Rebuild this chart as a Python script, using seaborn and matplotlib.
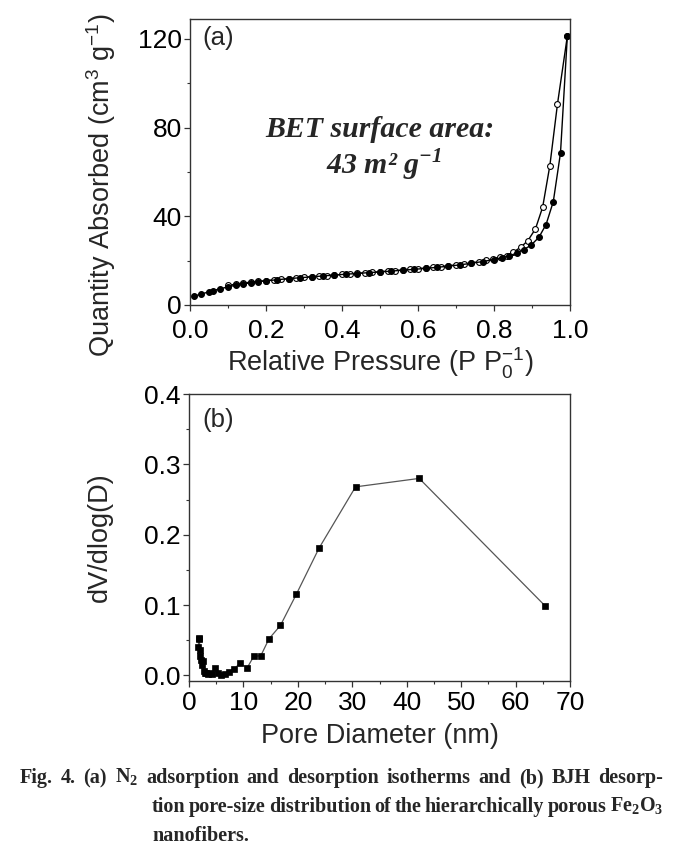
import numpy as np
import pandas as pd
import seaborn as sns
import matplotlib.pyplot as plt
from matplotlib.ticker import MultipleLocator

# (a) N2 isotherm, adsorption branch (filled)
ads_p = [0.01, 0.03, 0.05, 0.06, 0.08, 0.10, 0.12, 0.14, 0.16, 0.18, 0.20, 0.23, 0.26, 0.29,
         0.32, 0.35, 0.38, 0.41, 0.44, 0.47, 0.50, 0.53, 0.56, 0.59, 0.62, 0.65, 0.68, 0.71,
         0.74, 0.77, 0.80, 0.82, 0.84, 0.86, 0.878, 0.897, 0.918, 0.937, 0.956, 0.975, 0.993]
ads_q = [3.9, 5.0, 5.9, 6.5, 7.3, 8.2, 8.9, 9.5, 10.0, 10.5, 10.9, 11.4, 11.9, 12.3,
         12.7, 13.1, 13.5, 13.9, 14.2, 14.6, 14.9, 15.3, 15.7, 16.1, 16.5, 17.0, 17.5, 18.1,
         18.8, 19.6, 20.5, 21.3, 22.2, 23.4, 25.0, 26.9, 30.5, 36.3, 46.6, 68.6, 121.3]

# desorption branch (open)
des_p = [0.993, 0.967, 0.947, 0.928, 0.909, 0.889, 0.870, 0.851, 0.833, 0.816, 0.798, 0.780,
         0.760, 0.740, 0.720, 0.700, 0.680, 0.660, 0.640, 0.620, 0.600, 0.580, 0.560, 0.540,
         0.520, 0.500, 0.480, 0.460, 0.440, 0.420, 0.400, 0.380, 0.360, 0.340, 0.320, 0.300,
         0.280, 0.260, 0.240, 0.220, 0.200, 0.180, 0.160, 0.140, 0.120, 0.100]
des_q = [121.3, 90.6, 62.9, 44.1, 34.3, 29.0, 26.0, 23.9, 22.3, 21.7, 20.9, 20.1,
         19.5, 19.0, 18.5, 18.1, 17.7, 17.3, 17.0, 16.7, 16.4, 16.1, 15.8, 15.5,
         15.3, 15.0, 14.8, 14.5, 14.3, 14.0, 13.8, 13.5, 13.3, 13.0, 12.8, 12.5,
         12.2, 11.9, 11.6, 11.3, 11.0, 10.7, 10.3, 9.9, 9.4, 8.8]

# (b) BJH pore size distribution
pore_d = [1.7, 1.8, 1.9, 2.0, 2.1, 2.2, 2.35, 2.5, 2.7, 2.9, 3.2, 3.5, 3.9, 4.3, 4.8, 5.3,
          5.9, 6.6, 7.4, 8.3, 9.3, 10.7, 11.9, 13.2, 14.7, 16.8, 19.7, 23.9, 30.6, 42.3, 65.4]
dv_dlogd = [0.040, 0.052, 0.053, 0.036, 0.028, 0.022, 0.015, 0.020, 0.006, 0.003, 0.004,
            0.002, 0.003, 0.002, 0.010, 0.003, 0.001, 0.002, 0.005, 0.009, 0.017, 0.011,
            0.027, 0.028, 0.052, 0.071, 0.115, 0.181, 0.268, 0.280, 0.099]

sns.set_theme(style='ticks')
plt.rcParams['font.family'] = ['Liberation Sans', 'DejaVu Sans']
plt.rcParams['axes.edgecolor'] = '#333333'

W, H = 679, 855
fig = plt.figure(figsize=(W / 100, H / 100), dpi=100)

def px_axes(l, t, r, b):
    return fig.add_axes([l / W, 1 - b / H, (r - l) / W, (b - t) / H])

ax1 = px_axes(190, 19, 570, 305)
ax2 = px_axes(189, 394, 570, 681)

# --- panel (a)
df_des = pd.DataFrame({'p': des_p, 'q': des_q})
df_ads = pd.DataFrame({'p': ads_p, 'q': ads_q})
sns.lineplot(data=df_des, x='p', y='q', ax=ax1, sort=False, estimator=None, color='black',
             lw=1.0, marker='o', markersize=4.2, markerfacecolor='white',
             markeredgecolor='black', markeredgewidth=0.8)
sns.lineplot(data=df_ads, x='p', y='q', ax=ax1, sort=False, estimator=None, color='black',
             lw=1.0, marker='o', markersize=4.2, markerfacecolor='black',
             markeredgecolor='black', markeredgewidth=0.8)
ax1.set_xlim(0, 1.0)
ax1.set_ylim(0, 129)
ax1.xaxis.set_minor_locator(MultipleLocator(0.1))
ax1.yaxis.set_major_locator(MultipleLocator(40))
ax1.yaxis.set_minor_locator(MultipleLocator(20))
ax1.set_xticks([0, 0.2, 0.4, 0.6, 0.8, 1.0])
ax1.set_xticklabels(['0.0', '0.2', '0.4', '0.6', '0.8', '1.0'])
ax1.set_xlabel(r'Relative Pressure (P P$_{\mathdefault{0}}^{\mathdefault{-1}}$)', fontsize=19.5, labelpad=2)
ax1.set_ylabel(r'Quantity Absorbed (cm$^{\mathdefault{3}}$ g$^{\mathdefault{-1}}$)', fontsize=19.5)
ax1.yaxis.set_label_coords(-0.19, 0.42)
ax1.text(0.033, 0.935, '(a)', transform=ax1.transAxes, fontsize=18.5, va='center', ha='left')
bet_font = dict(family=['Liberation Serif', 'DejaVu Serif'], weight='bold', style='italic', fontsize=21.5)
ax1.text(0.5, 0.612, 'BET surface area:', transform=ax1.transAxes, ha='center', va='center', **bet_font)
ax1.text(0.51, 0.49, r'43 m² g$^{\mathdefault{-1}}$', transform=ax1.transAxes, ha='center', va='center', **bet_font)

# --- panel (b)
df_bjh = pd.DataFrame({'d': pore_d, 'v': dv_dlogd})
sns.lineplot(data=df_bjh, x='d', y='v', ax=ax2, sort=False, estimator=None, color='#555555',
             lw=0.9, marker='s', markersize=4.6, markerfacecolor='black',
             markeredgecolor='black', markeredgewidth=0.5)
ax2.set_xlim(0, 70)
ax2.set_ylim(-0.008, 0.4)
ax2.xaxis.set_major_locator(MultipleLocator(10))
ax2.xaxis.set_minor_locator(MultipleLocator(5))
ax2.set_yticks([0.0, 0.1, 0.2, 0.3, 0.4])
ax2.set_yticklabels(['0.0', '0.1', '0.2', '0.3', '0.4'])
ax2.yaxis.set_minor_locator(MultipleLocator(0.05))
ax2.set_xlabel('Pore Diameter (nm)', fontsize=19.5, labelpad=6)
ax2.set_ylabel('dV/dlog(D)', fontsize=19.5)
ax2.yaxis.set_label_coords(-0.2, 0.5)
ax2.text(0.035, 0.91, '(b)', transform=ax2.transAxes, fontsize=18.5, va='center', ha='left')

for ax in (ax1, ax2):
    for s in ax.spines.values():
        s.set_visible(True)
        s.set_linewidth(1.0)
    ax.tick_params(which='major', direction='out', length=4, width=0.9, labelsize=19, pad=2,
                   top=False, right=False, colors='#333333', labelcolor='black')
    ax.tick_params(which='minor', direction='out', length=2.5, width=0.8, top=False, right=False,
                   colors='#333333')
ax1.tick_params(axis='x', which='major', pad=6)
ax2.tick_params(axis='x', which='major', pad=3)

# --- caption, justified word by word
cap_font = dict(family=['Liberation Serif', 'DejaVu Serif'], weight='bold', fontsize=14.5)
renderer = fig.canvas.get_renderer()

def caption_line(words, x0, x1, y, justify=True):
    texts = [fig.text(x0 / W, 1 - y / H, w, ha='left', va='baseline', **cap_font) for w in words]
    widths = [t.get_window_extent(renderer).width for t in texts]
    if justify and len(words) > 1:
        gap = (x1 - x0 - sum(widths)) / (len(words) - 1)
    else:
        gap = 5
    x = x0
    for t, w in zip(texts, widths):
        t.set_x(x / W)
        x += w + gap

caption_line(['Fig.', '4.', '(a)', r'N$_{\mathdefault{2}}$', 'adsorption', 'and', 'desorption',
              'isotherms', 'and', '(b)', 'BJH', 'desorp-'], 20, 663, 783)
caption_line(['tion', 'pore-size', 'distribution', 'of', 'the', 'hierarchically', 'porous',
              r'Fe$_{\mathdefault{2}}$O$_{\mathdefault{3}}$'], 152, 663, 812)
caption_line(['nanofibers.'], 152, 663, 841, justify=False)

fig.savefig('out.png', dpi=100)
